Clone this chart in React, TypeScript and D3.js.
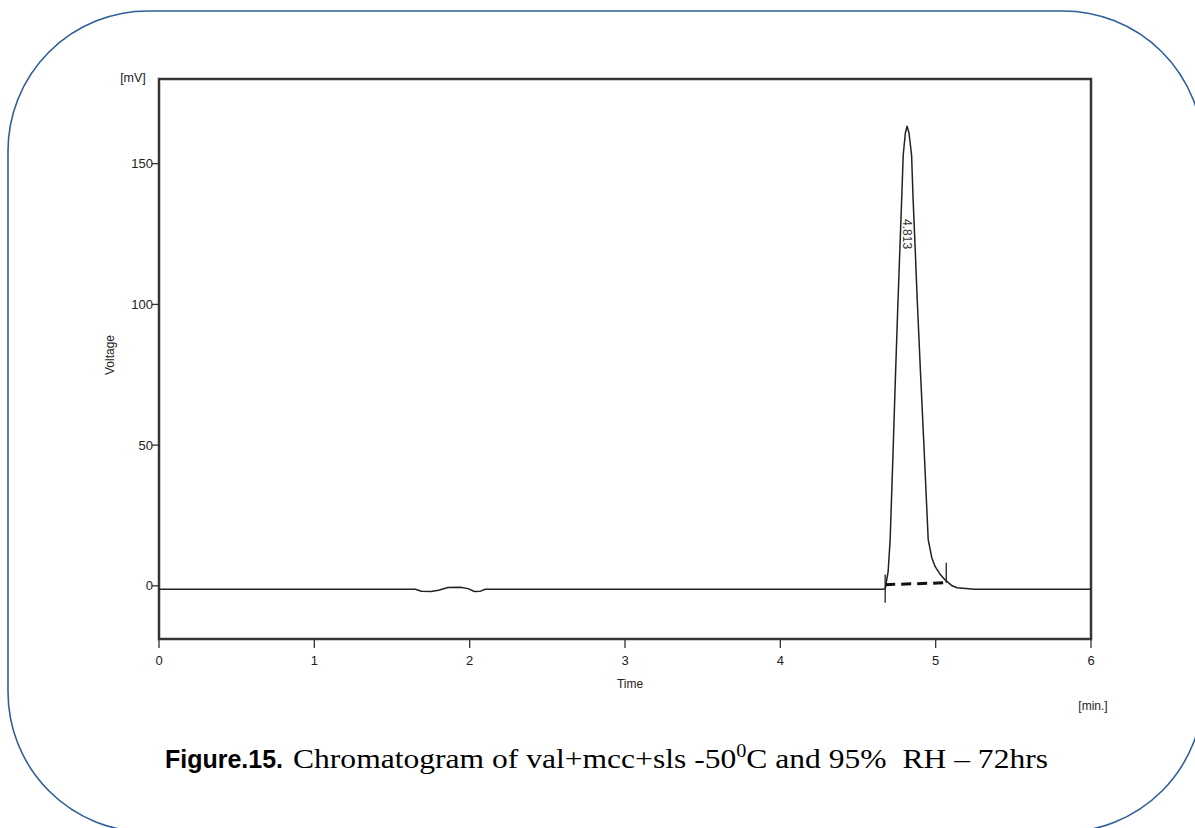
import React from "react";
import * as d3 from "d3";

const timeValues = [0, 1.65, 1.69, 1.75, 1.8, 1.86, 1.94, 1.99, 2.03, 2.07, 2.1, 4.66, 4.675, 4.694, 4.707, 4.726, 4.742, 4.758, 4.781, 4.791, 4.805, 4.816, 4.828, 4.845, 4.855, 4.868, 4.881, 4.903, 4.926, 4.952, 4.975, 4.997, 5.03, 5.061, 5.106, 5.138, 5.25, 6.0];
const voltageValues = [-1.2, -1.2, -1.9, -2.0, -1.6, -0.6, -0.5, -1.0, -2.0, -1.9, -1.2, -1.2, -1.0, 5, 16.4, 48, 76, 102, 137, 153, 161, 163.3, 161, 153, 137, 120, 102, 75, 48, 16.4, 10, 6.8, 4, 2.1, 0, -0.7, -1.2, -1.2];
const xTicks = [0, 1, 2, 3, 4, 5, 6];
const yTicks = [0, 50, 100, 150];
const peakTime = 4.813;
const peakLabelVoltage = 125;
const integrationBaseline = [[4.675, 0.4], [5.068, 1.1]];
const integrationMarks = [[4.675, 4, -6], [5.068, 8.2, 1.1]];

const W = 1195, H = 828;
const left = 159, right = 1091, top = 79, bottom = 639;

export default function App() {
  const x = d3.scaleLinear().domain([0, 6]).range([left, right]);
  const y = d3.scaleLinear().domain([-18.9, 180.1]).range([bottom, top]);
  const pts: [number, number][] = timeValues.map((t, i) => [t, voltageValues[i]]);
  const line = d3.line<[number, number]>().x(d => x(d[0])).y(d => y(d[1])).curve(d3.curveLinear);
  const sans = "'Liberation Sans', Arial, sans-serif";
  const serif = "'Liberation Serif', 'Times New Roman', serif";
  return (
    <svg width={W} height={H} style={{ position: "absolute", left: 0, top: 0, background: "#fff" }}>
      <rect x={8} y={11} width={1195} height={821} rx={140} ry={140} fill="none" stroke="#2f5f9a" strokeWidth={1.6} />
      {/* frame */}
      <rect x={left} y={top} width={right - left} height={bottom - top} fill="none" stroke="#aaa" strokeWidth={3.2} />
      <rect x={left} y={top} width={right - left} height={bottom - top} fill="none" stroke="#1a1a1a" strokeWidth={1.6} />
      {/* y ticks */}
      {yTicks.map(v => (
        <g key={"y" + v}>
          <line x1={left - 7} x2={left} y1={y(v)} y2={y(v)} stroke="#333" strokeWidth={1.3} />
          <text x={left - 6} y={y(v)} dy="0.36em" textAnchor="end" fontFamily={sans} fontSize={13} fill="#222">{v}</text>
        </g>
      ))}
      {xTicks.map(t => (
        <g key={"x" + t}>
          <line x1={x(t)} x2={x(t)} y1={bottom} y2={bottom + 9} stroke="#333" strokeWidth={1.3} />
          <text x={x(t)} y={665} textAnchor="middle" fontFamily={sans} fontSize={13} fill="#222">{t}</text>
        </g>
      ))}
      <text x={133} y={82} textAnchor="middle" fontFamily={sans} fontSize={12.5} fill="#222">[mV]</text>
      <text transform={`translate(114,355) rotate(-90)`} textAnchor="middle" fontFamily={sans} fontSize={12} fill="#222">Voltage</text>
      <text x={630} y={688} textAnchor="middle" fontFamily={sans} fontSize={12} fill="#222">Time</text>
      <text x={1093} y={710} textAnchor="middle" fontFamily={sans} fontSize={12} fill="#222">[min.]</text>
      {/* trace */}
      <path d={line(pts) || ""} fill="none" stroke="#222" strokeWidth={1.5} strokeLinejoin="round" />
      <line x1={x(integrationBaseline[0][0])} y1={y(integrationBaseline[0][1])} x2={x(integrationBaseline[1][0])} y2={y(integrationBaseline[1][1])} stroke="#111" strokeWidth={3} strokeDasharray="10,6" />
      {integrationMarks.map((m, i) => (
        <line key={"m" + i} x1={x(m[0])} x2={x(m[0])} y1={y(m[1])} y2={y(m[2])} stroke="#222" strokeWidth={1.3} />
      ))}
      <text transform={`translate(${x(peakTime) - 4},${y(peakLabelVoltage)}) rotate(90)`} textAnchor="middle" fontFamily={sans} fontSize={12} fill="#333">{peakTime.toFixed(3)}</text>
      {/* caption */}
      <text x={165} y={768} fontFamily={sans} fontWeight="bold" fontSize={26} textLength={118} lengthAdjust="spacingAndGlyphs" fill="#000">Figure.15.</text>
      <text x={293} y={768} fontFamily={serif} fontSize={28} fill="#000" textLength={755} lengthAdjust="spacingAndGlyphs">
        Chromatogram of val+mcc+sls -50<tspan dy={-11} fontSize={18}>0</tspan><tspan dy={11}>{"C and 95%\u00a0 RH – 72hrs"}</tspan>
      </text>
    </svg>
  );
}
